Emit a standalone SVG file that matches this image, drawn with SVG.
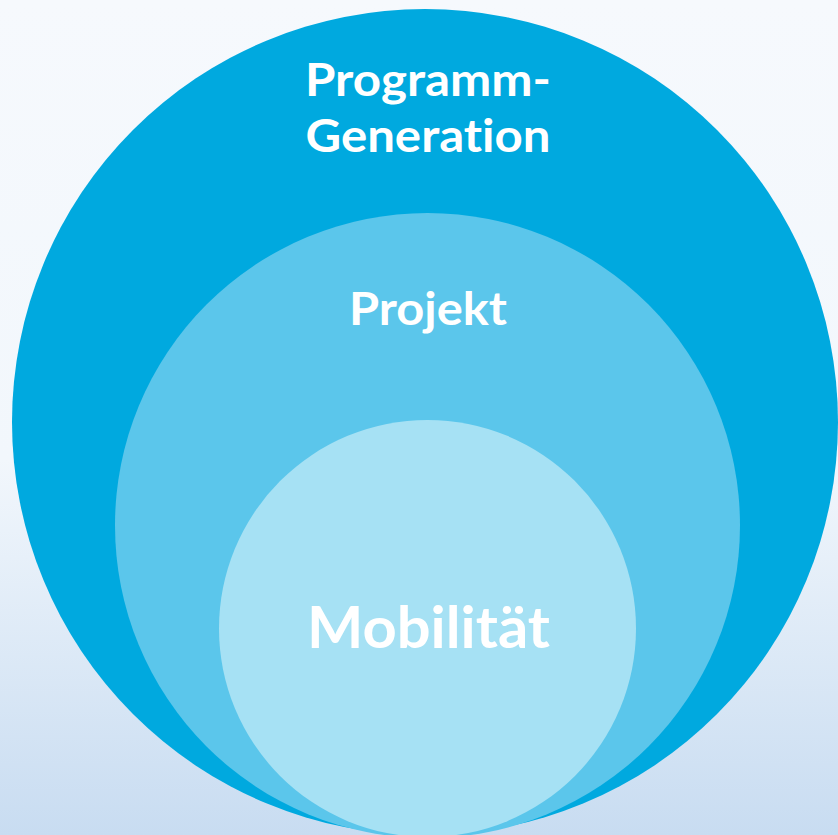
<svg xmlns="http://www.w3.org/2000/svg" width="838" height="835" viewBox="0 0 838 835">
  <defs>
    <linearGradient id="bg" x1="0" y1="0" x2="0" y2="1">
      <stop offset="0" stop-color="#f6f9fd"/>
      <stop offset="0.55" stop-color="#f2f7fc"/>
      <stop offset="1" stop-color="#c8dcf1"/>
    </linearGradient>
  </defs>
  <style>
    .lbl { font-family: Lato, "Open Sans", "Liberation Sans", sans-serif; font-weight: 700; fill: #ffffff; text-anchor: middle; font-variant-ligatures: none; }
  </style>
  <rect x="0" y="0" width="838" height="835" fill="url(#bg)"/>
  <g id="programm-generation">
    <circle cx="425" cy="422" r="413" fill="#00a9df"/>
    <text class="lbl" x="428" y="96" font-size="46" textLength="246" lengthAdjust="spacingAndGlyphs">Programm-</text>
    <text class="lbl" x="428" y="152" font-size="46" textLength="245" lengthAdjust="spacingAndGlyphs">Generation</text>
  </g>
  <g id="projekt">
    <circle cx="427.5" cy="525.5" r="312.5" fill="#5bc6eb"/>
    <text class="lbl" x="428" y="325" font-size="45" textLength="158" lengthAdjust="spacingAndGlyphs">Projekt</text>
  </g>
  <g id="mobilitaet">
    <circle cx="427.5" cy="628.5" r="208.5" fill="#a6e1f4"/>
    <text class="lbl" x="428.5" y="648" font-size="57" textLength="243" lengthAdjust="spacingAndGlyphs">Mobilität</text>
  </g>
  <g id="connectors"/>
</svg>
